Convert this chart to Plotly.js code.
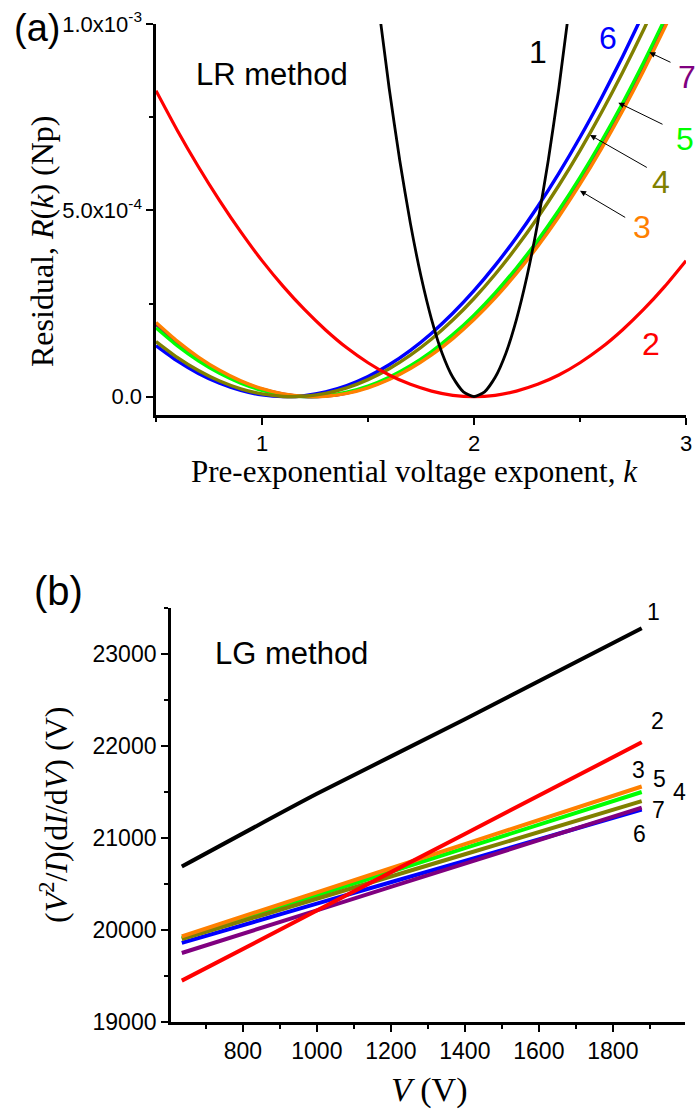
<!DOCTYPE html>
<html>
<head>
<meta charset="utf-8">
<script src="https://cdn.plot.ly/plotly-3.0.1.min.js"></script>
<style>html,body{margin:0;padding:0;background:#fff;}#chart{width:695px;height:1110px;}</style>
</head>
<body>
<div id="chart"></div>
<script>
// ---------- Panel (a): residual R(k) vs k (LR method) ----------
const kCurve1 = [1.55,1.60,1.65,1.70,1.75,1.80,1.85,1.90,1.95,2.00,2.05,2.10,2.15,2.20,2.25,2.30,2.35,2.40,2.45];
const rCurve1 = [1.047e-3,8.27e-4,6.33e-4,4.65e-4,3.23e-4,2.07e-4,1.16e-4,5.2e-5,1.3e-5,0,1.3e-5,5.2e-5,1.16e-4,2.07e-4,3.23e-4,4.65e-4,6.33e-4,8.27e-4,1.047e-3];

const kGrid = [0.5,0.6,0.7,0.8,0.9,1.0,1.1,1.2,1.3,1.4,1.5,1.6,1.7,1.8,1.9,2.0,2.1,2.2,2.3,2.4,2.5,2.6,2.7,2.8,2.9,3.0];
const rCurve2 = [8.21e-4,7.15e-4,6.17e-4,5.26e-4,4.42e-4,3.65e-4,2.96e-4,2.34e-4,1.79e-4,1.31e-4,9.1e-5,5.8e-5,3.3e-5,1.5e-5,3.7e-6,0,3.7e-6,1.5e-5,3.3e-5,5.8e-5,9.1e-5,1.31e-4,1.79e-4,2.34e-4,2.96e-4,3.65e-4];
const rCurve3 = [1.990e-4,1.490e-4,1.063e-4,7.07e-5,4.24e-5,2.13e-5,7.4e-6,7e-7,1.2e-6,8.9e-6,2.39e-5,4.60e-5,7.54e-5,1.120e-4,1.558e-4,2.068e-4,2.650e-4,3.305e-4,4.031e-4,4.830e-4,5.701e-4,6.644e-4,7.659e-4,8.747e-4,9.906e-4,1.1138e-3];
const rCurve4 = [1.480e-4,1.055e-4,7.02e-5,4.21e-5,2.11e-5,7.3e-6,6e-7,1.2e-6,8.9e-6,2.37e-5,4.58e-5,7.50e-5,1.114e-4,1.549e-4,2.056e-4,2.635e-4,3.285e-4,4.007e-4,4.801e-4,5.667e-4,6.604e-4,7.613e-4,8.693e-4,9.845e-4,1.1069e-3,1.2365e-3];
const rCurve5 = [1.850e-4,1.371e-4,9.64e-5,6.28e-5,3.64e-5,1.71e-5,5.0e-6,1e-7,2.4e-6,1.18e-5,2.84e-5,5.22e-5,8.31e-5,1.212e-4,1.665e-4,2.189e-4,2.785e-4,3.453e-4,4.192e-4,5.003e-4,5.886e-4,6.840e-4,7.866e-4,8.964e-4,1.0134e-3,1.1375e-3];
const rCurve6 = [1.370e-4,9.60e-5,6.23e-5,3.59e-5,1.67e-5,4.8e-6,1e-7,2.6e-6,1.25e-5,2.95e-5,5.39e-5,8.55e-5,1.243e-4,1.704e-4,2.237e-4,2.843e-4,3.522e-4,4.273e-4,5.097e-4,5.993e-4,6.961e-4,8.003e-4,9.116e-4,1.0303e-3,1.1562e-3,1.2893e-3];
const rCurve7 = [1.945e-4,1.452e-4,1.030e-4,6.81e-5,4.04e-5,1.99e-5,6.6e-6,4e-7,1.5e-6,9.8e-6,2.53e-5,4.80e-5,7.78e-5,1.149e-4,1.592e-4,2.107e-4,2.694e-4,3.352e-4,4.083e-4,4.886e-4,5.761e-4,6.708e-4,7.726e-4,8.817e-4,9.980e-4,1.1215e-3];

const aYTickVals = [0, 5e-4, 1e-3];
const aYTickText = ['0.0', '5.0x10<sup>-4</sup>', '1.0x10<sup>-3</sup>'];
const aXTickVals = [1, 2, 3];
const aXTickText = ['1', '2', '3'];

// ---------- Panel (b): (V^2/I)(dI/dV) vs V (LG method) ----------
const vGrid = [635, 1000, 1400, 1878];
const gCurve1 = [20690, 21480, 22290, 23280];
const gCurve2 = [19450, 20211, 21044, 22040];
const gCurve3 = [19930, 20409, 20933, 21560];
const gCurve4 = [19900, 20340, 20823, 21400];
const gCurve5 = [19910, 20377, 20889, 21500];
const gCurve6 = [19860, 20286, 20752, 21310];
const gCurve7 = [19750, 20214, 20722, 21330];

const bYTickVals = [19000, 20000, 21000, 22000, 23000];
const bYTickText = ['19000', '20000', '21000', '22000', '23000'];
const bXTickVals = [800, 1000, 1200, 1400, 1600, 1800];
const bXTickText = ['800', '1000', '1200', '1400', '1600', '1800'];

const curveLabels = ['1','2','3','4','5','6','7'];
const colors = {
  1: '#000000', 2: '#FF0000', 3: '#FF8000', 4: '#808000',
  5: '#00FF00', 6: '#0000FF', 7: '#800080'
};

// ---------- helpers (pixel -> paper) ----------
const W = 695, H = 1110;
const PX = p => p / W;
const PY = p => 1 - p / H;

const SANS = 'Liberation Sans, Arial, sans-serif';
const SERIF = 'Liberation Serif, Times New Roman, serif';

function line(x, y, c, w, xa, ya) {
  return {x: x, y: y, type: 'scatter', mode: 'lines', xaxis: xa, yaxis: ya,
          line: {color: colors[c], width: w, shape: 'spline', smoothing: 0.6},
          hoverinfo: 'skip', showlegend: false};
}

const traces = [
  line(kGrid, rCurve7, 7, 3.4, 'x', 'y'),
  line(kGrid, rCurve6, 6, 3.4, 'x', 'y'),
  line(kGrid, rCurve5, 5, 3.4, 'x', 'y'),
  line(kGrid, rCurve3, 3, 3.4, 'x', 'y'),
  line(kGrid, rCurve4, 4, 3.4, 'x', 'y'),
  line(kGrid, rCurve2, 2, 3.2, 'x', 'y'),
  line(kCurve1, rCurve1, 1, 2.8, 'x', 'y'),

  line(vGrid, gCurve6, 6, 4, 'x2', 'y2'),
  line(vGrid, gCurve7, 7, 4, 'x2', 'y2'),
  line(vGrid, gCurve5, 5, 4, 'x2', 'y2'),
  line(vGrid, gCurve4, 4, 4, 'x2', 'y2'),
  line(vGrid, gCurve3, 3, 4, 'x2', 'y2'),
  line(vGrid, gCurve2, 2, 4, 'x2', 'y2'),
  line(vGrid, gCurve1, 1, 4, 'x2', 'y2')
];

const axisBase = {
  showgrid: false, zeroline: false, showline: true, linecolor: '#000', linewidth: 2.6,
  ticks: 'outside', ticklen: 7, tickwidth: 2, tickcolor: '#000',
  tickfont: {family: SANS, size: 22, color: '#000'}, mirror: false, fixedrange: true
};
const minorBase = {tickmode: 'array', ticks: 'outside', ticklen: 4, tickwidth: 2, tickcolor: '#000'};

const layout = {
  width: W, height: H,
  margin: {l: 0, r: 0, t: 0, b: 0, pad: 0},
  paper_bgcolor: '#fff', plot_bgcolor: 'rgba(0,0,0,0)',
  showlegend: false,
  xaxis: Object.assign({}, axisBase, {
    domain: [PX(156), PX(686)], range: [0.5, 3], anchor: 'y',
    tickmode: 'array', tickvals: aXTickVals, ticktext: aXTickText,
    minor: Object.assign({}, minorBase, {tickvals: [0.5, 1.5, 2.5]})
  }),
  yaxis: Object.assign({}, axisBase, {
    domain: [PY(415.3), PY(24)], range: [-5e-5, 1e-3], anchor: 'x',
    tickmode: 'array', tickvals: aYTickVals, ticktext: aYTickText,
    minor: Object.assign({}, minorBase, {tickvals: [2.5e-4, 7.5e-4]})
  }),
  xaxis2: Object.assign({}, axisBase, {
    domain: [PX(170.7), PX(685)], range: [605, 1995], anchor: 'y2',
    tickmode: 'array', tickvals: bXTickVals, ticktext: bXTickText,
    tickfont: {family: SANS, size: 23, color: '#000'},
    minor: Object.assign({}, minorBase, {tickvals: [700, 900, 1100, 1300, 1500, 1700, 1900]})
  }),
  yaxis2: Object.assign({}, axisBase, {
    domain: [PY(1022), PY(608)], range: [19000, 23500], anchor: 'x2',
    tickmode: 'array', tickvals: bYTickVals, ticktext: bYTickText,
    tickfont: {family: SANS, size: 23, color: '#000'},
    minor: Object.assign({}, minorBase, {tickvals: [19500, 20500, 21500, 22500, 23500]})
  }),
  annotations: []
};

function txt(text, x, y, size, color, family, opts) {
  return Object.assign({text: text, xref: 'paper', yref: 'paper', x: PX(x), y: PY(y),
    xanchor: 'center', yanchor: 'middle', showarrow: false,
    font: {family: family || SANS, size: size, color: color || '#000'}}, opts || {});
}
function arrow(tx, ty, hx, hy) {
  return {text: '', xref: 'paper', yref: 'paper', x: PX(hx), y: PY(hy),
    ax: tx - hx, ay: ty - hy, showarrow: true, arrowhead: 2, arrowsize: 1.2,
    arrowwidth: 1, arrowcolor: '#000', standoff: 0, startstandoff: 0};
}

const A = layout.annotations;
// panel letters & method titles
A.push(txt('(a)', 37, 28, 38));
A.push(txt('(b)', 58, 591, 40));
A.push(txt('LR method', 194, 75, 31, '#000', SANS, {xanchor: 'left'}));
A.push(txt('LG method', 213, 653, 31, '#000', SANS, {xanchor: 'left'}));
// axis titles
A.push(txt('Pre-exponential voltage exponent, <i>k</i>', 414, 471, 31, '#000', SERIF));
A.push(txt('Residual, <i>R</i>(<i>k</i>) (Np)', 42, 242, 32, '#000', SERIF, {textangle: -90}));
A.push(txt('<i>V</i> (V)', 429, 1090, 34, '#000', SERIF));
A.push(txt('(<i>V</i><sup>2</sup>/<i>I</i>)(d<i>I</i>/d<i>V</i>) (V)', 54, 815, 32, '#000', SERIF, {textangle: -90}));
// panel (a) curve labels
A.push(txt(curveLabels[0], 538, 52, 32, colors[1]));
A.push(txt(curveLabels[1], 651, 344, 32, colors[2]));
A.push(txt(curveLabels[5], 608, 38, 32, colors[6]));
A.push(txt(curveLabels[6], 676, 77, 32, colors[7], SANS, {xanchor: 'left'}));
A.push(txt(curveLabels[4], 674, 139, 32, colors[5], SANS, {xanchor: 'left'}));
A.push(txt(curveLabels[3], 661, 182, 32, colors[4]));
A.push(txt(curveLabels[2], 642, 227, 32, colors[3]));
// arrows in panel (a)
A.push(arrow(672, 63, 649.3, 52.3));
A.push(arrow(664, 125, 618.3, 102.7));
A.push(arrow(648.3, 168.3, 590, 135));
A.push(arrow(626.7, 218.3, 580, 190.7));
// panel (b) curve labels
A.push(txt(curveLabels[0], 653, 612, 23));
A.push(txt(curveLabels[1], 657, 721, 23));
A.push(txt(curveLabels[2], 638, 770, 23));
A.push(txt(curveLabels[4], 659, 779, 23));
A.push(txt(curveLabels[3], 679, 792, 23));
A.push(txt(curveLabels[6], 658, 810, 23));
A.push(txt(curveLabels[5], 639, 834, 23));

Plotly.newPlot('chart', traces, layout, {staticPlot: true, displayModeBar: false});
</script>
</body>
</html>
